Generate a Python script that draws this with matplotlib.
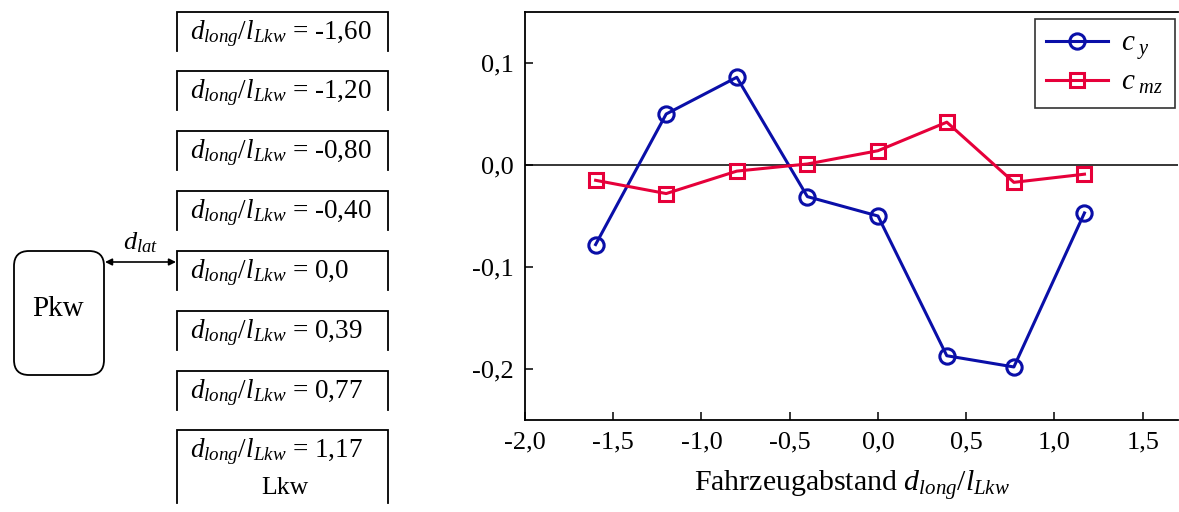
import numpy as np
import matplotlib
matplotlib.use("Agg")
import matplotlib.pyplot as plt
from matplotlib.patches import FancyBboxPatch

plt.rcParams['font.family'] = ['Liberation Serif', 'DejaVu Serif']
plt.rcParams['mathtext.fontset'] = 'custom'
plt.rcParams['mathtext.rm'] = 'Liberation Serif'
plt.rcParams['mathtext.it'] = 'Liberation Serif:italic'

# data
d_long = [-1.60, -1.20, -0.80, -0.40, 0.0, 0.39, 0.77, 1.17]
c_y = [-0.078, 0.050, 0.086, -0.031, -0.050, -0.187, -0.198, -0.047]
c_mz = [-0.015, -0.028, -0.006, 0.001, 0.014, 0.042, -0.017, -0.009]
box_labels = ["-1,60", "-1,20", "-0,80", "-0,40", "0,0", "0,39", "0,77", "1,17"]

xticks = [-2.0, -1.5, -1.0, -0.5, 0.0, 0.5, 1.0, 1.5]
yticks = [-0.2, -0.1, 0.0, 0.1]

W, H = 1179, 512
fig = plt.figure(figsize=(W / 100, H / 100), dpi=100)

# --- sketch on the left (pixel coordinates) ---
sk = fig.add_axes([0, 0, 1, 1])
sk.set_xlim(0, W)
sk.set_ylim(H, 0)
sk.axis('off')

box_l, box_r = 177, 388
box_tops = [12, 71, 131, 191, 251, 311, 371, 430]
for i, (top, lab) in enumerate(zip(box_tops, box_labels)):
    bottom = top + 39 if i < len(box_tops) - 1 else 503
    sk.plot([box_l, box_l, box_r, box_r], [bottom, top, top, bottom],
            color='black', lw=1.3, solid_joinstyle='miter')
    sk.text(190, top + 22, r"$d_{long}/l_{Lkw}$ = " + lab,
            fontsize=19.5, ha='left', va='center')
sk.text((box_l + box_r) / 2 + 2, box_tops[-1] + 58, "Lkw", fontsize=18.5,
        ha='center', va='center')

pkw = FancyBboxPatch((14, 251), 90, 124, boxstyle="round,pad=0,rounding_size=15",
                     fc='white', ec='black', lw=1.3)
sk.add_patch(pkw)
sk.text(58, 309, "Pkw", fontsize=21, ha='center', va='center')

sk.annotate("", xy=(176, 262), xytext=(105, 262),
            arrowprops=dict(arrowstyle='<|-|>', color='black', lw=1.2,
                            mutation_scale=10, shrinkA=0, shrinkB=0))
sk.text(141, 243, r"$d_{lat}$", fontsize=19, ha='center', va='center')

# --- chart on the right ---
ax = fig.add_axes([525 / W, 1 - 420 / H, (1178 - 525) / W, (420 - 12) / H])
ax.axhline(0, color='black', lw=1.1, zorder=1)
ax.plot(d_long, c_y, color='#0a0fa8', lw=2.2, marker='o', ms=11,
        mfc='none', mec='#0a0fa8', mew=2.2, label=r"$c_{\ y}$", zorder=3)
ax.plot(d_long, c_mz, color='#e6003a', lw=2.2, marker='s', ms=9.5,
        mfc='none', mec='#e6003a', mew=2.2, label=r"$c_{\ mz}$", zorder=3)

ax.set_xlim(-2.0, 1.7)
ax.set_ylim(-0.25, 0.15)
ax.set_xticks(xticks)
ax.set_xticklabels([f"{v:.1f}".replace('.', ',') for v in xticks])
ax.set_yticks(yticks)
ax.set_yticklabels([f"{v:.1f}".replace('.', ',') for v in yticks])
ax.tick_params(direction='in', length=6, width=1.1, labelsize=19, pad=8)
for s in ['left', 'bottom', 'top']:
    ax.spines[s].set_linewidth(1.3)
ax.spines['right'].set_visible(False)
ax.set_xlabel(r"Fahrzeugabstand $d_{long}/l_{Lkw}$", fontsize=21.5, labelpad=11)

leg = ax.legend(loc='upper right', bbox_to_anchor=(0.995, 0.983),
                borderaxespad=0, fontsize=21, handlelength=2.1,
                fancybox=False, edgecolor='#333333', framealpha=1,
                labelspacing=0.25, borderpad=0.4, handletextpad=0.45)
leg.get_frame().set_linewidth(1.2)

fig.savefig("out.png", dpi=100)
